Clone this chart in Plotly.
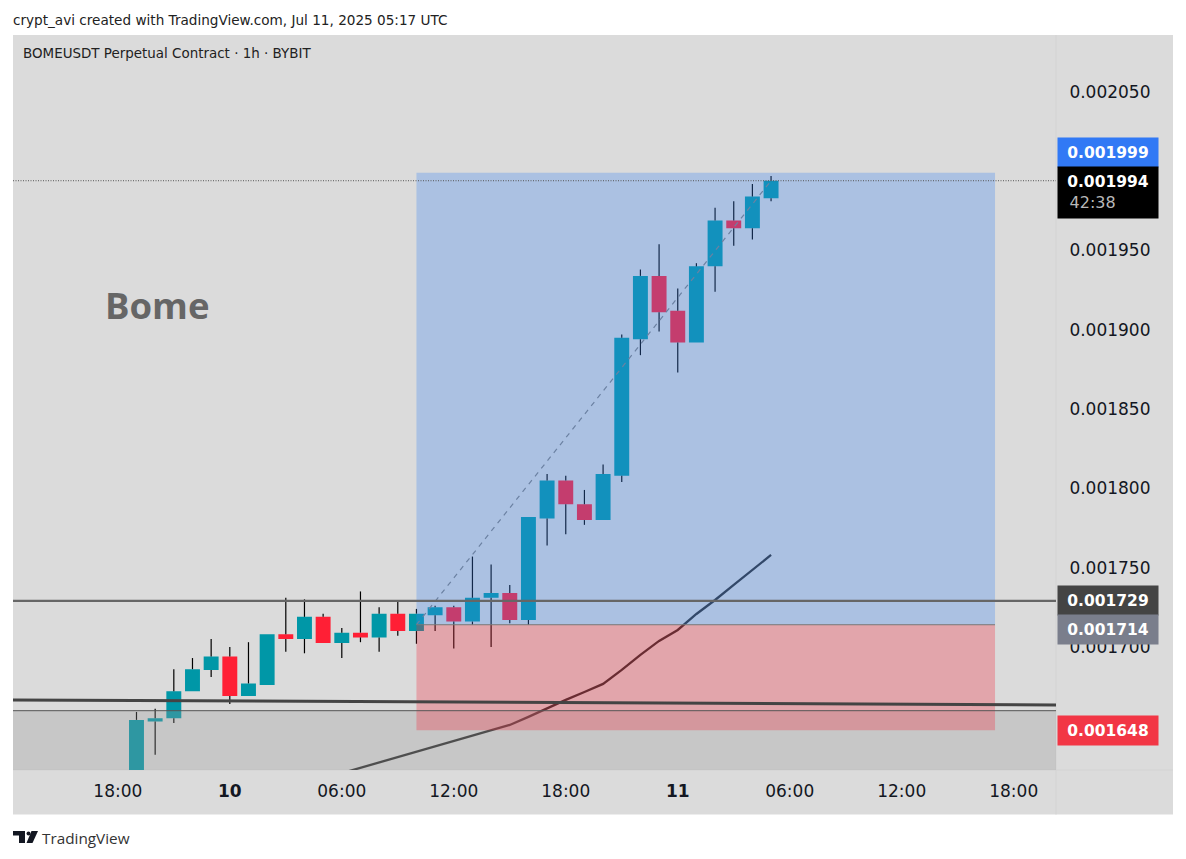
import plotly.graph_objects as go

# hourly candles, Jul 9 19:00 to Jul 11 05:00 UTC
times = [
    "2025-07-09 19:00", "2025-07-09 20:00", "2025-07-09 21:00", "2025-07-09 22:00", "2025-07-09 23:00",
    "2025-07-10 00:00", "2025-07-10 01:00", "2025-07-10 02:00", "2025-07-10 03:00", "2025-07-10 04:00",
    "2025-07-10 05:00", "2025-07-10 06:00", "2025-07-10 07:00", "2025-07-10 08:00", "2025-07-10 09:00",
    "2025-07-10 10:00", "2025-07-10 11:00", "2025-07-10 12:00", "2025-07-10 13:00", "2025-07-10 14:00",
    "2025-07-10 15:00", "2025-07-10 16:00", "2025-07-10 17:00", "2025-07-10 18:00", "2025-07-10 19:00",
    "2025-07-10 20:00", "2025-07-10 21:00", "2025-07-10 22:00", "2025-07-10 23:00", "2025-07-11 00:00",
    "2025-07-11 01:00", "2025-07-11 02:00", "2025-07-11 03:00", "2025-07-11 04:00", "2025-07-11 05:00",
]
opens = [0.001610, 0.001653, 0.001655, 0.001672, 0.0016855, 0.001694, 0.001669, 0.001676, 0.001708, 0.001705,
         0.001719, 0.0017025, 0.001709, 0.001706, 0.001721, 0.001710, 0.001720, 0.001725, 0.001716, 0.001731,
         0.001734, 0.001717, 0.001781, 0.001805, 0.001790, 0.001780, 0.001808, 0.001894, 0.001934, 0.001912,
         0.001892, 0.001940, 0.001969, 0.001964, 0.001983]
highs = [0.001659, 0.001661, 0.001686, 0.001693, 0.001705, 0.001700, 0.001703, 0.001708, 0.001731, 0.001730,
         0.001721, 0.001712, 0.001735, 0.001725, 0.001729, 0.001724, 0.001726, 0.001726, 0.001757, 0.001752,
         0.001739, 0.001782, 0.001809, 0.001808, 0.001799, 0.001815, 0.001897, 0.001938, 0.001954, 0.001926,
         0.001942, 0.001977, 0.001981, 0.001992, 0.001997]
lows = [0.001610, 0.001632, 0.001652, 0.001672, 0.001681, 0.001664, 0.001669, 0.001676, 0.001697, 0.001696,
        0.0017025, 0.001693, 0.001703, 0.001697, 0.001707, 0.001702, 0.001710, 0.001699, 0.001714, 0.001700,
        0.001715, 0.001714, 0.001764, 0.001771, 0.001777, 0.001780, 0.001804, 0.001884, 0.001899, 0.001873,
        0.001892, 0.001924, 0.001953, 0.001957, 0.001981]
closes = [0.001654, 0.001655, 0.001672, 0.001686, 0.001694, 0.001669, 0.001677, 0.001708, 0.001705, 0.001719,
          0.0017025, 0.001709, 0.001706, 0.001721, 0.001710, 0.001721, 0.001725, 0.001716, 0.001731, 0.001734,
          0.001717, 0.001782, 0.001805, 0.001790, 0.001780, 0.001809, 0.001895, 0.001934, 0.001911, 0.001892,
          0.001940, 0.001969, 0.001964, 0.001984, 0.001994]

# moving average line
ma_times = [
    "2025-07-10 06:00", "2025-07-10 07:00", "2025-07-10 08:00", "2025-07-10 09:00", "2025-07-10 10:00",
    "2025-07-10 11:00", "2025-07-10 12:00", "2025-07-10 13:00", "2025-07-10 14:00", "2025-07-10 15:00",
    "2025-07-10 16:00", "2025-07-10 17:00", "2025-07-10 18:00", "2025-07-10 19:00", "2025-07-10 20:00",
    "2025-07-10 21:00", "2025-07-10 22:00", "2025-07-10 23:00", "2025-07-11 00:00", "2025-07-11 01:00",
    "2025-07-11 02:00", "2025-07-11 03:00", "2025-07-11 04:00", "2025-07-11 05:00",
]
ma_values = [0.0016204, 0.0016238, 0.0016272, 0.0016306, 0.0016339, 0.0016373, 0.0016407, 0.0016440,
             0.0016474, 0.0016508, 0.0016559, 0.0016615, 0.0016666, 0.0016716, 0.0016767, 0.0016855,
             0.0016950, 0.0017038, 0.0017107, 0.0017208, 0.0017296, 0.0017391, 0.0017485, 0.0017580]

# long position tool
entry_time = "2025-07-10 10:00"
exit_time = "2025-07-11 17:00"
last_time = "2025-07-11 05:00"
last_price = 0.001994
target_price = 0.001999
entry_price = 0.001714
stop_price = 0.0016475
resistance_price = 0.001729
zone_top = 0.0016598
trend_left = 0.0016666
trend_right = 0.0016634

y_ticks = [0.001700, 0.001750, 0.001800, 0.001850, 0.001900, 0.001950, 0.002050]
x_ticks = ["2025-07-09 18:00", "2025-07-10 00:00", "2025-07-10 06:00", "2025-07-10 12:00", "2025-07-10 18:00",
           "2025-07-11 00:00", "2025-07-11 06:00", "2025-07-11 12:00", "2025-07-11 18:00"]
x_labels = ["18:00", "<b>10</b>", "06:00", "12:00", "18:00", "<b>11</b>", "06:00", "12:00", "18:00"]

UP = "#0097a7"
DOWN = "#ff1f35"
BG = "#dbdbdb"
FONT = "DejaVu Sans"

# page pixels of the main pane; the page body adds an 8px margin around the figure
PAGE_MARGIN = 8
W, H = 1168, 842
L, R, T, B = 13, 1056, 35, 770


def px(x):
    return (x - L) / (R - L)


def py(y):
    return (B - y) / (B - T)


def tag(price, text, color, height=29, yshift=0):
    return dict(xref="paper", yref="y", x=px(1057), y=price, xanchor="left", yanchor="middle",
                text=text, showarrow=False, bgcolor=color, width=100, height=height,
                align="center", yshift=yshift, borderpad=0,
                font=dict(family=FONT, size=15.5, color="white"))


# wicks stop at the body so the line never shows through it
wick_x, wick_y = [], []
for t, o, c, lo, hi in zip(times, opens, closes, lows, highs):
    wick_x += [t, t, None, t, t, None]
    wick_y += [lo, min(o, c), None, max(o, c), hi, None]

fig = go.Figure()

fig.add_trace(go.Scatter(x=wick_x, y=wick_y, mode="lines", line=dict(color="#000000", width=1.2)))
fig.add_trace(go.Candlestick(
    x=times, open=opens, close=closes,
    high=[max(o, c) for o, c in zip(opens, closes)],
    low=[min(o, c) for o, c in zip(opens, closes)],
    whiskerwidth=0,
    increasing=dict(line=dict(color=UP, width=0), fillcolor=UP),
    decreasing=dict(line=dict(color=DOWN, width=0), fillcolor=DOWN),
))
fig.add_trace(go.Scatter(x=ma_times, y=ma_values, mode="lines", line=dict(color="#2f2f2f", width=2.3)))
fig.add_trace(go.Scatter(x=[entry_time, last_time], y=[entry_price, last_price], mode="lines",
                         line=dict(color="#808080", width=1.2, dash="5px,5px")))

shapes = [
    # right and bottom scales
    dict(type="rect", xref="paper", yref="paper", x0=0, x1=px(1173), y0=py(814.5), y1=1, layer="below",
         fillcolor=BG, line_width=0),
    dict(type="line", xref="paper", yref="paper", x0=1, x1=1, y0=py(814.5), y1=1, layer="below",
         line=dict(color="#d3d3d3", width=1)),
    dict(type="line", xref="paper", yref="paper", x0=0, x1=px(1173), y0=0, y1=0, layer="below",
         line=dict(color="#d3d3d3", width=1)),
    # grey zone
    dict(type="rect", xref="paper", yref="y", x0=0, x1=1, y0=0.0015, y1=zone_top, layer="above",
         fillcolor="rgba(153,153,153,0.3)", line_width=0),
    # position tool
    dict(type="rect", xref="x", yref="y", x0=entry_time, x1=exit_time, y0=entry_price, y1=target_price,
         layer="above", fillcolor="rgba(59,132,242,0.3)", line_width=0),
    dict(type="rect", xref="x", yref="y", x0=entry_time, x1=exit_time, y0=stop_price, y1=entry_price,
         layer="above", fillcolor="rgba(242,40,60,0.3)", line_width=0),
    dict(type="line", xref="x", yref="y", x0=entry_time, x1=exit_time, y0=entry_price, y1=entry_price,
         layer="above", line=dict(color="#777777", width=1)),
    # levels
    dict(type="line", xref="paper", yref="y", x0=0, x1=1, y0=last_price, y1=last_price, layer="above",
         line=dict(color="#555555", width=1, dash="1px,1.5px")),
    dict(type="line", xref="paper", yref="y", x0=0, x1=1, y0=resistance_price, y1=resistance_price,
         layer="above", line=dict(color="#666666", width=2.2)),
    dict(type="line", xref="paper", yref="y", x0=0, x1=1, y0=zone_top, y1=zone_top, layer="above",
         line=dict(color="#555555", width=1)),
    dict(type="line", xref="paper", yref="y", x0=0, x1=1, y0=trend_left, y1=trend_right, layer="above",
         line=dict(color="#444444", width=3)),
    # logo
    dict(type="path", xref="paper", yref="paper", fillcolor="#131722", line_width=0,
         path="M {} {} L {} {} L {} {} L {} {} L {} {} L {} {} Z".format(
             px(13), py(831), px(25), py(831), px(25), py(843), px(19), py(843), px(19), py(835.5), px(13), py(835.5))),
    dict(type="circle", xref="paper", yref="paper", fillcolor="#131722", line_width=0,
         x0=px(26.5), x1=px(30.5), y0=py(835.5), y1=py(831.5)),
    dict(type="path", xref="paper", yref="paper", fillcolor="#131722", line_width=0,
         path="M {} {} L {} {} L {} {} L {} {} Z".format(
             px(31.5), py(831), px(38), py(831), px(32.5), py(843), px(26.5), py(843))),
]

annotations = [
    dict(xref="paper", yref="paper", x=px(10.5), y=py(19.5), xanchor="left", yanchor="middle", showarrow=False,
         text="crypt_avi created with TradingView.com, Jul 11, 2025 05:17 UTC",
         font=dict(family=FONT, size=13.6, color="#222222")),
    dict(xref="paper", yref="paper", x=px(21), y=py(53.5), xanchor="left", yanchor="middle", showarrow=False,
         text="BOMEUSDT Perpetual Contract · 1h · BYBIT",
         font=dict(family=FONT, size=13.45, color="#222222")),
    dict(xref="paper", yref="paper", x=px(102.5), y=py(304.5), xanchor="left", yanchor="middle", showarrow=False,
         text="<b>Bome</b>", font=dict(family="Open Sans", size=36.5, color="#666666")),
    dict(xref="paper", yref="paper", x=px(40), y=py(838), xanchor="left", yanchor="middle", showarrow=False,
         text="TradingView", font=dict(family="Open Sans", size=15.3, color="#333333")),
    tag(target_price, "<b>0.001999</b>", "#3179f5", yshift=20.5),
    tag(last_price,
        "<b>0.001994</b><br><span style='color:#b8b8b8;font-size:16px'>42:38&nbsp;&nbsp;&nbsp;&nbsp;&nbsp;&nbsp;</span>",
        "#000000", height=51, yshift=-11.5),
    tag(resistance_price, "<b>0.001729</b>", "#444444"),
    tag(entry_price, "<b>0.001714</b>", "#7a7e8c", yshift=-5),
    tag(stop_price, "<b>0.001648</b>", "#f23645"),
]

fig.update_layout(
    width=W, height=H,
    margin=dict(l=L - PAGE_MARGIN, r=W - (R - PAGE_MARGIN), t=T - PAGE_MARGIN, b=H - (B - PAGE_MARGIN), pad=0),
    autosize=False,
    paper_bgcolor="white",
    plot_bgcolor=BG,
    showlegend=False,
    hovermode=False,
    boxgap=0.2,
    boxgroupgap=0,
    font=dict(family=FONT, color="#131722"),
    shapes=shapes,
    annotations=annotations,
)
fig.update_xaxes(
    type="date",
    range=["2025-07-09 12:23", "2025-07-11 20:16"],
    rangeslider_visible=False,
    tickmode="array", tickvals=x_ticks, ticktext=x_labels,
    tickfont=dict(family=FONT, size=17, color="#131722"),
    showgrid=False, zeroline=False, showline=False, ticks="outside", ticklen=6, tickcolor=BG,
)
fig.update_yaxes(
    side="right",
    range=[0.0016224, 0.0020859],
    tickmode="array", tickvals=y_ticks, tickformat=".6f",
    tickfont=dict(family=FONT, size=17, color="#131722"),
    showgrid=False, zeroline=False, showline=False, ticks="outside", ticklen=9, tickcolor=BG,
)

fig.write_html("out.html")
